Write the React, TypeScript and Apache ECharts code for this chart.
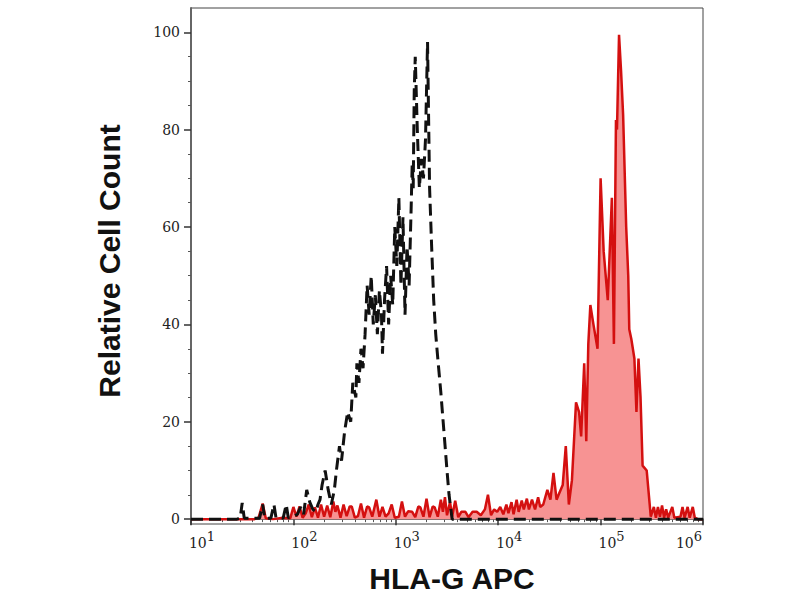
import React, { useEffect, useRef } from "react";
import * as echarts from "echarts";

// Histogram of HLA-G APC (red, filled) vs. isotype control (black dashed)
// x positions are given as log10 of the fluorescence intensity
const redLogX = [
  1.0, 1.2, 1.4, 1.55, 1.62, 1.66, 1.7, 1.73, 1.8, 1.9, 1.97, 2.0, 2.03, 2.06, 2.09, 2.12, 2.15, 2.18,
  2.21, 2.24, 2.27, 2.3, 2.33, 2.36, 2.39, 2.41, 2.43, 2.46, 2.49, 2.52, 2.55, 2.57, 2.6, 2.63, 2.66,
  2.69, 2.72, 2.74, 2.77, 2.81, 2.84, 2.87, 2.9, 2.93, 2.96, 2.99, 3.03, 3.06, 3.09, 3.12, 3.16, 3.19,
  3.22, 3.24, 3.27, 3.3, 3.33, 3.36, 3.38, 3.41, 3.44, 3.46, 3.48, 3.5, 3.53, 3.55, 3.58, 3.61, 3.64,
  3.68, 3.71, 3.75, 3.79, 3.83, 3.87, 3.9, 3.93, 3.96, 3.99, 4.02, 4.05, 4.08, 4.1, 4.13, 4.15, 4.18,
  4.2, 4.23, 4.25, 4.28, 4.3, 4.33, 4.36, 4.39, 4.41,
  4.44, 4.48, 4.51, 4.54, 4.57, 4.59, 4.63, 4.66, 4.69, 4.72, 4.76, 4.79, 4.81, 4.84, 4.86, 4.88, 4.9,
  4.93, 4.97, 5.0, 5.03, 5.07, 5.11, 5.13, 5.15, 5.16, 5.18, 5.2, 5.22, 5.25, 5.27, 5.28, 5.3, 5.33,
  5.35, 5.37, 5.39, 5.41, 5.45, 5.49,
  5.52, 5.54, 5.56, 5.58, 5.6, 5.62, 5.64, 5.66, 5.7, 5.72, 5.78, 5.8, 5.82, 5.85, 5.87, 5.9, 5.92, 5.95,
  6.0,
];
const redCount = [
  0, 0, 0, 0, 0, 0.3, 3.2, 0.2, 0, 0.3, 0.2, 2.5, 0.5, 2.6, 0.3, 1.2, 3.0, 0.4,
  2.4, 0.3, 3.0, 0.5, 2.8, 0.4, 3.6, 1.5, 2.8, 0.3, 3.0, 0.6, 2.6, 2.6, 0.3, 0.6, 3.2,
  0.3, 2.6, 2.4, 0.5, 4.0, 0.5, 2.5, 0.5, 1.2, 3.0, 0.3, 0.5, 3.6, 0.5, 1.6, 1.5, 0.4,
  2.6, 2.4, 0.5, 4.2, 0.4, 2.6, 2.4, 0.5, 4.0, 1.5, 4.5, 0.8, 3.5, 0.5, 3.8, 0.4, 1.5,
  1.5, 0.4, 1.5, 1.5, 0.8, 2.0, 5.0, 0.8, 2.0, 1.5, 2.5, 1.0, 3.0, 1.2, 3.5, 1.0, 4.0,
  1.5, 3.8, 2.0, 4.2, 2.0, 4.0, 2.0, 4.5, 2.5,
  3, 6, 4, 9.5, 4, 5, 7, 15, 3, 8, 24, 22, 17, 32, 16, 36, 44,
  40, 35, 70, 55, 45, 66, 36, 82, 80, 99.5, 92, 83, 60, 50, 39, 37, 33,
  22, 33, 25, 11, 10, 0.5,
  2.5, 0.3, 2.5, 0.5, 2.8, 0.3, 2.0, 0.3, 2.5, 0.3, 0.5, 2.5, 0.3, 2.5, 0.3, 2.5, 0.3, 0,
  0,
];

const ctrlLogX = [
  1.0, 1.45, 1.48, 1.5, 1.52, 1.67, 1.7, 1.72, 1.78, 1.81, 1.83, 1.9, 1.93, 1.95, 2.0, 2.04, 2.07, 2.1,
  2.13, 2.16, 2.19, 2.22, 2.24, 2.26, 2.28, 2.31, 2.34, 2.37, 2.4, 2.42, 2.45, 2.47, 2.5, 2.53, 2.56,
  2.58, 2.61, 2.62, 2.64, 2.66, 2.68, 2.7, 2.72, 2.74, 2.76, 2.78, 2.8, 2.82, 2.84, 2.86, 2.87, 2.89,
  2.91, 2.93, 2.95, 2.97, 2.99, 3.01, 3.03, 3.05, 3.07, 3.09, 3.11, 3.13, 3.15, 3.16, 3.17, 3.18, 3.19,
  3.21, 3.23, 3.25, 3.27, 3.29, 3.31, 3.33, 3.35, 3.37, 3.39, 3.41, 3.44, 3.47, 3.5, 3.52, 3.55, 4.0,
  5.0, 6.0,
];
const ctrlCount = [
  0, 0, 0.2, 3.3, 0.2, 0.2, 3.0, 0.2, 0.2, 3.0, 0.3, 0.2, 3.0, 0.3, 0.5, 1.0, 2.5, 1.0,
  6.0, 3.5, 2.0, 1.5, 3.0, 4.0, 7, 10, 6, 3, 6, 10, 15, 12, 18, 22, 20,
  28, 25, 32, 28, 35, 31, 38, 48, 42, 50, 40, 46, 38, 47, 42, 34, 45,
  52, 40, 50, 44, 60, 52, 66, 48, 62, 42, 56, 48, 64, 73, 68, 88, 95,
  80, 68, 74, 70, 78, 98, 68, 56, 45, 38, 33, 26, 18, 10, 5, 0, 0,
  0, 0,
];

const xMajorTicks = [10, 100, 1000, 10000, 100000, 1000000];
const yMajorTicks = [0, 20, 40, 60, 80, 100];
const yMinorTicks = [5, 10, 15, 25, 30, 35, 45, 50, 55, 65, 70, 75, 85, 90, 95];
const xAxisTitle = "HLA-G APC";
const yAxisTitle = "Relative Cell Count";

const xMinorTicks: number[] = [];
for (let d = 1; d < 6; d++) {
  for (let m = 2; m <= 9; m++) xMinorTicks.push(m * Math.pow(10, d));
}

const toData = (lx: number[], ys: number[]) => lx.map((v, i) => [Math.pow(10, v), ys[i]]);

export default function App() {
  const ref = useRef<HTMLDivElement>(null);
  useEffect(() => {
    if (!ref.current) return;
    const chart = echarts.init(ref.current, undefined, { renderer: "svg" });
    const serif = "DejaVu Serif";
    chart.setOption({
      animation: false,
      backgroundColor: "#ffffff",
      grid: {
        left: 191,
        right: 97,
        top: 8,
        bottom: 76,
        show: true,
        borderColor: "#444",
        borderWidth: 1,
        backgroundColor: "transparent",
      },
      xAxis: [
        {
          type: "log",
          logBase: 10,
          min: 10,
          max: 1000000,
          position: "bottom",
          axisLine: { show: true, lineStyle: { color: "#666", width: 2 } },
          axisTick: {
            show: true,
            customValues: xMajorTicks,
            length: 6,
            lineStyle: { color: "#333", width: 1.5 },
          },
          axisLabel: {
            customValues: xMajorTicks,
            margin: 6,
            align: "center",
            formatter: (v: number) => {
              const e = Math.round(Math.log10(v));
              if (e === 6) return `{b|10}{s|${e}}{q| }`;
              return `{p| }{b|10}{s|${e}}`;
            },
            rich: {
              b: { fontFamily: serif, fontSize: 14, color: "#222" },
              s: { fontFamily: serif, fontSize: 13, color: "#222", padding: [0, 0, 12, 0] },
              p: { width: 22 },
              q: { width: 28 },
            },
          },
          splitLine: { show: false },
        },
        {
          type: "log",
          logBase: 10,
          min: 10,
          max: 1000000,
          position: "bottom",
          offset: 0,
          axisLine: { show: false },
          axisTick: {
            show: true,
            customValues: xMinorTicks,
            length: 3,
            lineStyle: { color: "#555", width: 1 },
          },
          axisLabel: { show: false },
          splitLine: { show: false },
        },
      ],
      yAxis: [
        {
          type: "value",
          min: -1,
          max: 105,
          axisLine: { show: true, lineStyle: { color: "#666", width: 2 } },
          axisTick: {
            show: true,
            customValues: yMajorTicks,
            length: 7,
            lineStyle: { color: "#333", width: 1.5 },
          },
          axisLabel: {
            customValues: yMajorTicks,
            margin: 11,
            fontFamily: serif,
            fontSize: 14,
            color: "#222",
          },
          splitLine: { show: false },
        },
        {
          type: "value",
          min: -1,
          max: 105,
          position: "left",
          offset: 0,
          axisLine: { show: false },
          axisTick: {
            show: true,
            customValues: yMinorTicks,
            length: 3,
            lineStyle: { color: "#555", width: 1 },
          },
          axisLabel: { show: false },
          splitLine: { show: false },
        },
      ],
      series: [
        {
          name: "HLA-G APC",
          type: "line",
          xAxisIndex: 0,
          yAxisIndex: 0,
          data: toData(redLogX, redCount),
          symbol: "none",
          lineStyle: { color: "#d41010", width: 2.5 },
          areaStyle: { color: "#f79393", opacity: 1 },
          z: 2,
        },
        {
          name: "Isotype control",
          type: "line",
          xAxisIndex: 0,
          yAxisIndex: 0,
          data: toData(ctrlLogX, ctrlCount),
          symbol: "none",
          lineStyle: { color: "#111", width: 3, type: [12, 6] },
          z: 3,
        },
      ],
      graphic: [
        {
          type: "text",
          x: 109,
          y: 261,
          rotation: Math.PI / 2,
          style: {
            text: yAxisTitle,
            fill: "#111",
            font: 'bold 30px "Liberation Sans"',
            align: "center",
            verticalAlign: "middle",
          },
        },
        {
          type: "text",
          x: 452,
          y: 578,
          style: {
            text: xAxisTitle,
            fill: "#111",
            font: 'bold 30px "Liberation Sans"',
            align: "center",
            verticalAlign: "middle",
          },
        },
      ],
    });
    return () => chart.dispose();
  }, []);
  return (
    <div
      ref={ref}
      style={{ position: "fixed", left: 0, top: 0, width: 800, height: 600, background: "#fff" }}
    />
  );
}
